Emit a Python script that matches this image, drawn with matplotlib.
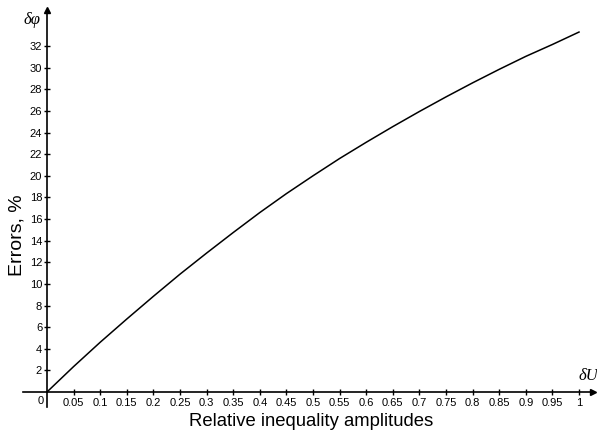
import numpy as np
import matplotlib
matplotlib.use("Agg")
import matplotlib.pyplot as plt
from matplotlib import font_manager

# relative inequality amplitude vs error
du = [0.0, 0.05, 0.1, 0.15, 0.2, 0.25, 0.3, 0.35, 0.4, 0.45, 0.5,
      0.55, 0.6, 0.65, 0.7, 0.75, 0.8, 0.85, 0.9, 0.95, 1.0]
dphi = [0.0, 2.35, 4.6, 6.75, 8.85, 10.9, 12.85, 14.75, 16.6, 18.35, 20.0,
        21.6, 23.1, 24.55, 25.95, 27.3, 28.6, 29.85, 31.05, 32.15, 33.3]

xticks = [0.05, 0.1, 0.15, 0.2, 0.25, 0.3, 0.35, 0.4, 0.45, 0.5,
          0.55, 0.6, 0.65, 0.7, 0.75, 0.8, 0.85, 0.9, 0.95, 1]
xticklabels = ['0.05', '0.1', '0.15', '0.2', '0.25', '0.3', '0.35', '0.4', '0.45', '0.5',
               '0.55', '0.6', '0.65', '0.7', '0.75', '0.8', '0.85', '0.9', '0.95', '1']
yticks = list(range(2, 33, 2))

# narrow face for the tick numbers if there is one
names = {f.name for f in font_manager.fontManager.ttflist}
if 'Liberation Sans Narrow' in names:
    tick_font = dict(family='Liberation Sans Narrow', fontsize=8.5)
else:
    tick_font = dict(family='Liberation Sans', fontsize=8)
serif = ['Liberation Serif', 'DejaVu Serif']

fig = plt.figure(figsize=(5.97, 4.34), dpi=100)
ax = fig.add_axes([23 / 597, 27 / 434, 570 / 597, 397 / 434])

ax.plot(du, dphi, color='black', lw=1.1)

ax.set_xlim(-0.0451, 1.0263)
ax.set_ylim(-1.39, 35.34)

for s in ['top', 'right']:
    ax.spines[s].set_visible(False)
ax.spines['left'].set_position(('data', 0))
ax.spines['bottom'].set_position(('data', 0))
ax.spines['left'].set_linewidth(1.2)
ax.spines['bottom'].set_linewidth(1.2)

# arrow heads
ax.plot(1, 0, '>k', ms=5, transform=ax.get_yaxis_transform(), clip_on=False)
ax.plot(0, 1, '^k', ms=5, transform=ax.get_xaxis_transform(), clip_on=False)

ax.set_xticks(xticks)
ax.set_xticklabels(xticklabels, **tick_font)
ax.set_yticks(yticks)
ax.set_yticklabels([str(v) for v in yticks], **tick_font)
ax.tick_params(axis='both', direction='inout', length=5, width=1.0, colors='black')
ax.tick_params(axis='x', pad=2)
ax.tick_params(axis='y', pad=1)

ax.text(-0.007, -0.4, '0', ha='right', va='top', **tick_font)

ax.text(-0.028, 34.4, 'δφ', ha='center', va='center', family=serif,
        style='italic', fontsize=12)
ax.text(1.017, 1.5, 'δU', ha='center', va='center', family=serif,
        style='italic', fontsize=12)

fig.text(311 / 597, 1 - 422 / 434, 'Relative inequality amplitudes',
         ha='center', va='center', family='Liberation Sans', fontsize=13.3)
fig.text(17 / 597, 1 - 235 / 434, 'Errors, %', ha='center', va='center',
         rotation=90, family='Liberation Sans', fontsize=14)

fig.savefig('out.png', dpi=100)
